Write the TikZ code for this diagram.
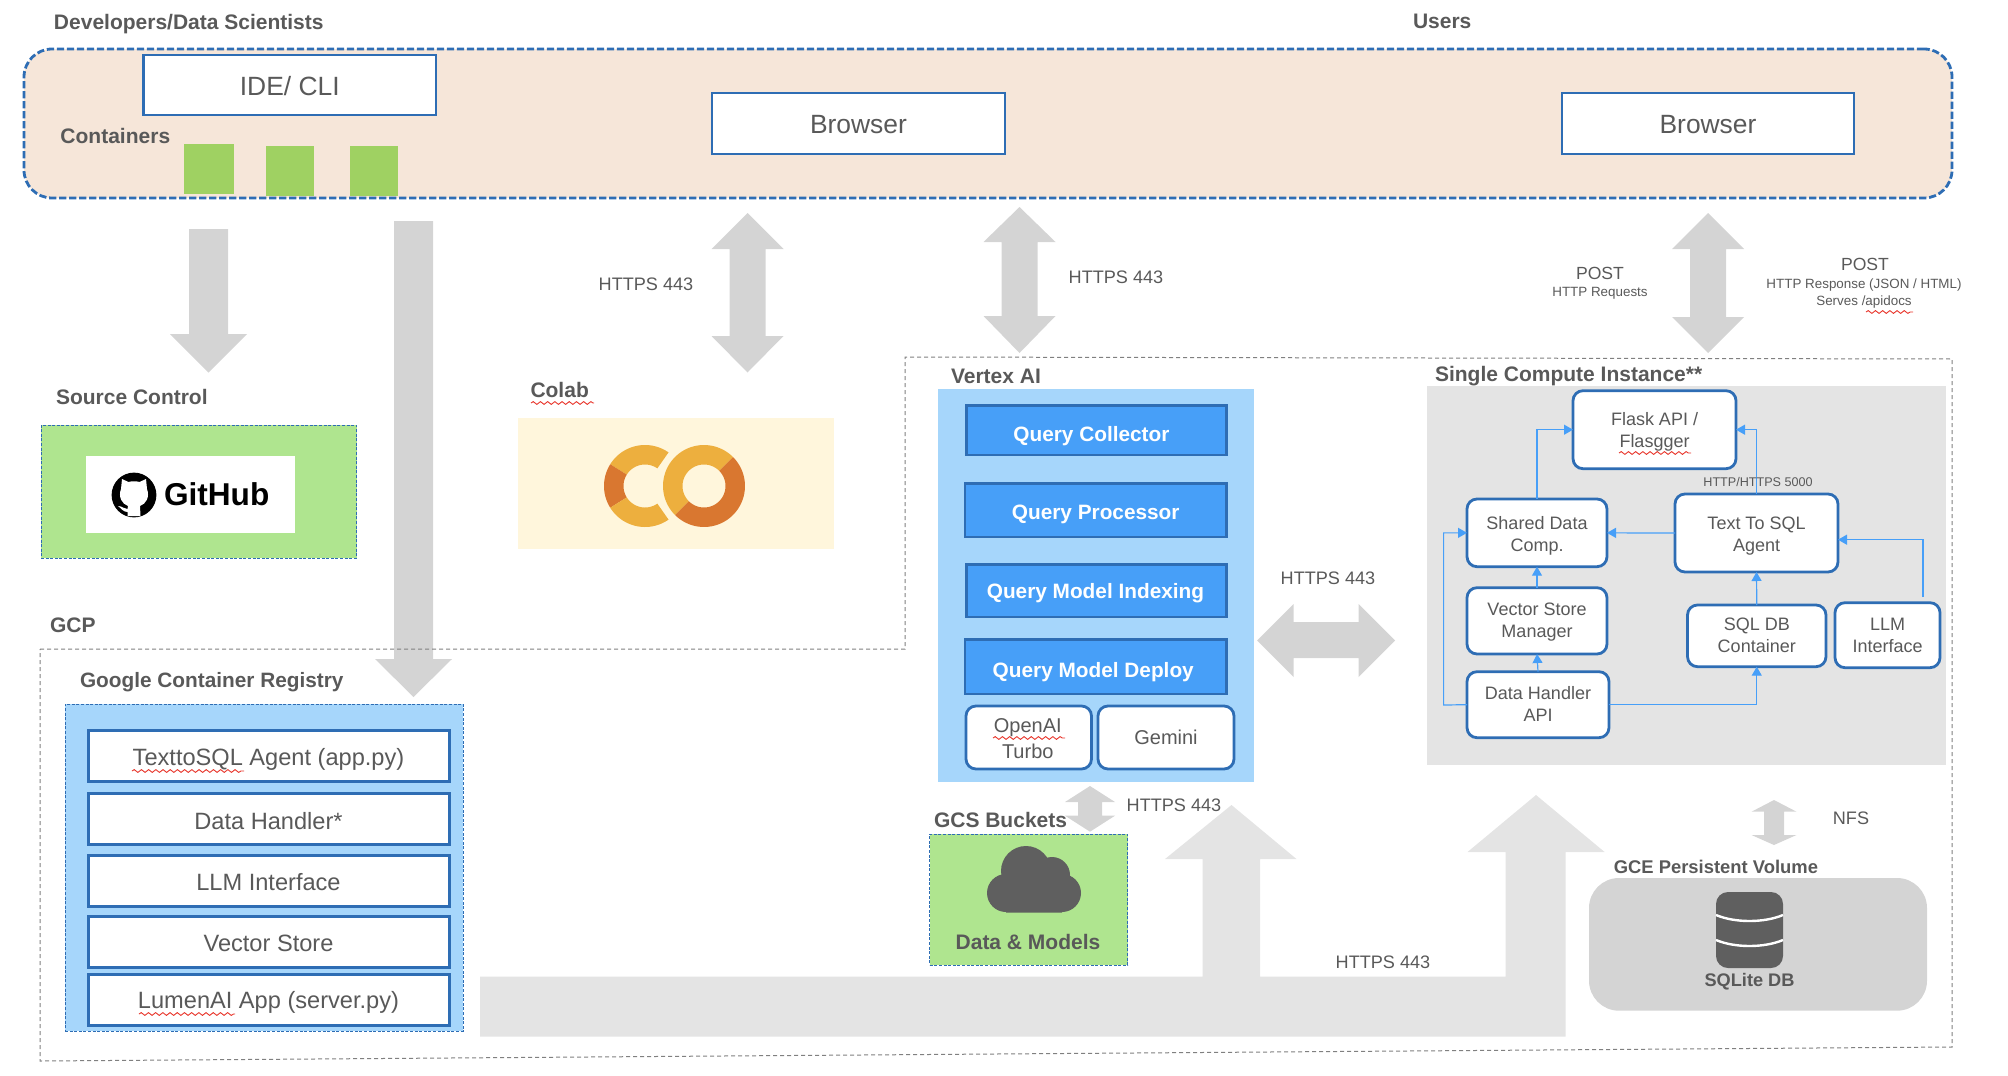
\documentclass[tikz,border=0pt]{standalone}
\usepackage{fontspec}
\setmainfont{Liberation Sans}
\usetikzlibrary{arrows.meta,decorations.pathmorphing}
\definecolor{ink}{HTML}{595959}
\definecolor{linkblue}{HTML}{2E6DB4}
\definecolor{arrowblue}{HTML}{479FF8}
\definecolor{paleblue}{HTML}{A6D6FB}
\definecolor{palegreen}{HTML}{AFE58F}
\definecolor{chipgreen}{HTML}{9FD162}
\definecolor{bandfill}{HTML}{F6E6D9}
\definecolor{creamfill}{HTML}{FFF6DC}
\definecolor{bigarrow}{HTML}{D4D4D4}
\definecolor{softarrow}{HTML}{E4E4E4}
\definecolor{icongrey}{HTML}{5F5F5F}
\definecolor{colablight}{HTML}{EDAF3E}
\definecolor{colabdark}{HTML}{D97730}
\definecolor{squig}{HTML}{E8352B}
\tikzset{
  x=0.5pt,y=-0.5pt,
  base/.style={inner sep=0pt,outer sep=0pt,align=center},
  hdr/.style={base,text=ink,anchor=west,font=\fontsize{10.5}{12}\selectfont\bfseries},
  lbl/.style={base,text=ink,font=\fontsize{9.05}{12}\selectfont},
  band/.style={base,fill=bandfill,draw=linkblue,line width=1.4pt,dash pattern=on 3.6pt off 1.4pt,rounded corners=14pt},
  whitebox/.style={base,fill=white,draw=linkblue,line width=1.4pt,text=ink,font=\fontsize{13.2}{15}\selectfont},
  stackbox/.style={base,fill=white,draw=linkblue,line width=1.5pt,text=ink,font=\fontsize{11.8}{14}\selectfont},
  chip/.style={base,fill=chipgreen},
  dashpanel/.style={base,draw=linkblue,line width=0.5pt,dash pattern=on 1.5pt off 0.8pt},
  querybox/.style={base,fill=arrowblue,draw=linkblue,line width=1.3pt,text=white,font=\fontsize{10.4}{12}\selectfont\bfseries},
  roundbox/.style={base,fill=white,draw=linkblue,line width=1.4pt,rounded corners=5pt,text=ink,font=\fontsize{9}{11}\selectfont},
  conn/.style={draw=arrowblue,line width=0.6pt,-{Triangle[length=4.5pt,width=5pt]}},
  groupline/.style={draw=gray,line width=0.5pt,dash pattern=on 2pt off 1.5pt},
  wavy/.style={draw=squig,line width=0.45pt,decorate,decoration={snake,amplitude=0.7pt,segment length=3.6pt}},
}
\newcommand{\bx}[7]{\node[#6,minimum width={(#4-#2)*0.5pt},minimum height={(#5-#3)*0.5pt}] (#1) at ({(#2+#4)/2},{(#3+#5)/2}) {#7};}
\newcommand{\nudge}[3]{\raisebox{#2}[\height][\depth]{\kern#1\relax #3}}
\newcommand{\twol}[2]{\begin{tabular}{@{}c@{}}#1\\#2\end{tabular}}
% vertical double arrow: colour, cx, half shaft, half head, tip top, base top, base bottom, tip bottom
\newcommand{\vdbl}[8]{\fill[#1] (#2,#5) -- ({#2+#4},#6) -- ({#2+#3},#6) -- ({#2+#3},#7) -- ({#2+#4},#7) -- (#2,#8) -- ({#2-#4},#7) -- ({#2-#3},#7) -- ({#2-#3},#6) -- ({#2-#4},#6) -- cycle;}
\newcommand{\ringsec}[7]{\fill[#7] plot[domain=#5:#6,samples=40] ({#1+#3*cos(\x)},{#2-#3*sin(\x)}) -- plot[domain=#6:#5,samples=40] ({#1+#4*cos(\x)},{#2-#4*sin(\x)}) -- cycle;}
\begin{document}
\begin{tikzpicture}
\useasboundingbox (0,0) rectangle (2008,1076);
% thick arrows that sit beneath the group outlines
\fill[softarrow] (480,976.5) -- (1202.5,976.5) -- (1202.5,859) -- (1165,859) -- (1231.5,805) -- (1296.5,859) -- (1260,859) -- (1260,976.5) -- (1505.6,976.5) -- (1505.6,852) -- (1467.5,852) -- (1536,795) -- (1604.6,852) -- (1565.7,852) -- (1565.7,1036.7) -- (480,1036.7) -- cycle;
\fill[bigarrow] (189,229) -- (228,229) -- (228,334) -- (247,334) -- (208.5,372.5) -- (170,334) -- (189,334) -- cycle;
\fill[bigarrow] (394,221) -- (433,221) -- (433,659) -- (452,659) -- (413.5,697) -- (375,659) -- (394,659) -- cycle;
\vdbl{bigarrow}{747.5}{18}{36}{213}{249}{336}{372.5}
\vdbl{bigarrow}{1019.5}{18}{36}{207}{242}{316}{353}
\vdbl{bigarrow}{1708}{18}{36}{213}{249}{317}{353}
\vdbl{bigarrow}{1090}{12}{25}{786}{802}{815.7}{831.7}
\vdbl{bigarrow}{1774}{10}{22.5}{800}{811.7}{835}{845}
\fill[bigarrow] (1257,640.5) -- (1293.6,604) -- (1293.6,622) -- (1358.6,622) -- (1358.6,604) -- (1395,640.5) -- (1358.6,677) -- (1358.6,658) -- (1293.6,658) -- (1293.6,677) -- cycle;
% group outline
\draw[groupline] (40,649) -- (905,649) -- (905,357) -- (1952,359) -- (1952,1047) -- (40,1061) -- cycle;
% top band
\bx{topband}{24}{49}{1952}{198}{band}{}
\bx{ide}{143.5}{55}{436}{115}{whitebox}{\nudge{0pt}{-0.6pt}{IDE/ CLI}}
\bx{browserA}{712}{93}{1005}{154}{whitebox}{\nudge{0pt}{-0.6pt}{Browser}}
\bx{browserB}{1562}{93}{1854}{154}{whitebox}{\nudge{0pt}{-0.6pt}{Browser}}
\bx{chipA}{184}{144}{234}{194}{chip}{}
\bx{chipB}{266}{146}{314}{196}{chip}{}
\bx{chipC}{350}{146}{398}{196}{chip}{}
\node[hdr] (devs) at (54,24) {Developers/Data Scientists};
\node[hdr] (users) at (1413,21) {Users};
\node[hdr] (containers) at (60.5,136) {Containers};
% source control
\node[hdr] (srcctl) at (56,397) {Source Control};
\bx{ghpanel}{41}{425}{356.5}{558}{dashpanel,fill=palegreen}{}
\bx{ghcard}{86}{456}{295}{532.5}{base,fill=white}{}
\fill[black] (134,495) circle[radius=11.2pt];
\fill[white] (121,489) -- (122,479) -- (128.5,482) .. controls (132,481) and (136,481) .. (139.5,482) -- (146,479) -- (147,489) .. controls (150,497) and (146,504) .. (140,506) -- (140.5,516) -- (127.5,516) -- (127.5,512) .. controls (123,512) and (121,508) .. (118,506) .. controls (122,506) and (124,509) .. (127.5,509) -- (128,506) .. controls (122,504) and (118,497) .. (121,489) -- cycle;
\node[base,text=black,anchor=west,font=\fontsize{15.8}{18}\selectfont\bfseries] (ghtext) at (164,494) {GitHub};
% colab
\node[hdr] (colab) at (530.5,390) {Colab};
\draw[wavy] (531,403) -- (594,403);
\bx{colabpanel}{518}{418}{834}{549}{base,fill=creamfill}{}
\ringsec{645}{486}{41}{21.5}{55}{148}{colablight}
\ringsec{645}{486}{41}{21.5}{148}{212}{colabdark}
\ringsec{645}{486}{41}{21.5}{212}{305}{colablight}
\fill[creamfill] (704,486) circle[radius=21.8pt];
\ringsec{704}{486}{41}{21.5}{45}{225}{colablight}
\ringsec{704}{486}{41}{21.5}{225}{405}{colabdark}
% labels on arrows
\node[lbl] (httpsA) at (646,284) {HTTPS 443};
\node[lbl] (httpsB) at (1116,277) {HTTPS 443};
\node[lbl] (httpsC) at (1328,578) {HTTPS 443};
\node[lbl] (httpsD) at (1174,805) {HTTPS 443};
\node[lbl] (httpsE) at (1383,962) {HTTPS 443};
\node[lbl] (nfs) at (1851,818) {NFS};
\node[lbl,font=\fontsize{8.8}{10}\selectfont] (postL) at (1600,273) {POST};
\node[lbl,font=\fontsize{6.7}{8}\selectfont] (postLb) at (1600,293) {HTTP Requests};
\node[lbl,font=\fontsize{8.8}{10}\selectfont] (postR) at (1865,264) {POST};
\node[lbl,font=\fontsize{6.7}{8}\selectfont] (postRb) at (1864,285) {HTTP Response (JSON / HTML)};
\node[lbl,font=\fontsize{6.7}{8}\selectfont] (postRc) at (1864,302) {Serves /apidocs};
\draw[wavy] (1866,312) -- (1913,312);
% GCP
\node[hdr] (gcp) at (50,625) {GCP};
\node[hdr,font=\fontsize{10.4}{12}\selectfont\bfseries] (gcr) at (80,682) {Google Container Registry};
\bx{gcrpanel}{65}{704}{463}{1031}{dashpanel,fill=paleblue}{}
\bx{stackA}{88}{730.7}{449}{781.7}{stackbox}{\nudge{0pt}{-1.8pt}{TexttoSQL Agent (app.py)}}
\bx{stackB}{88}{793}{449}{844}{stackbox}{\nudge{0pt}{-1.1pt}{Data Handler*}}
\bx{stackC}{88}{855.7}{449}{906.7}{stackbox}{\nudge{0pt}{-0.6pt}{LLM Interface}}
\bx{stackD}{88}{916.7}{449}{967.7}{stackbox}{\nudge{0pt}{-0.6pt}{Vector Store}}
\bx{stackE}{88}{974.7}{449}{1025.7}{stackbox}{\nudge{0pt}{-1.3pt}{LumenAI App (server.py)}}
\draw[wavy] (132,771) -- (244,771);
\draw[wavy] (139,1014) -- (235,1014);
% Vertex AI
\node[hdr] (vertex) at (951,376) {Vertex AI};
\bx{vertexpanel}{938}{389}{1254}{782}{base,fill=paleblue}{}
\bx{qc}{966.4}{405.7}{1226.5}{455}{querybox}{\nudge{-5pt}{-2.8pt}{Query Collector}}
\bx{qp}{965}{483.7}{1226.5}{537}{querybox}{\nudge{0pt}{-2pt}{Query Processor}}
\bx{qmi}{966.4}{564.7}{1226.5}{617}{querybox}{\nudge{-1pt}{-1pt}{Query Model Indexing}}
\bx{qmd}{965}{639.7}{1226.5}{694}{querybox}{\nudge{-2.5pt}{-2.5pt}{Query Model Deploy}}
\bx{openai}{966}{706}{1091.5}{769}{roundbox,font=\fontsize{10}{13}\selectfont}{\nudge{-1pt}{-1.6pt}{\twol{OpenAI}{Turbo}}}
\bx{gemini}{1098}{706}{1234}{769}{roundbox,font=\fontsize{10}{13}\selectfont}{Gemini}
\draw[wavy] (993,738) -- (1065,738);
% GCS
\node[hdr] (gcs) at (934,820) {GCS Buckets};
\bx{gcspanel}{929.7}{834}{1127.6}{965}{dashpanel,fill=palegreen}{}
\fill[icongrey] (1026,871) circle[radius=12.5pt] (1052,875) circle[radius=9pt] (1062,893) circle[radius=9.5pt] (1006,893) circle[radius=9.5pt] (1006,880) rectangle (1062,912.5);
\node[hdr,anchor=center] (gcsdata) at (1028,942) {Data \& Models};
% compute instance
\node[hdr] (compute) at (1435,376) {Single Compute Instance**};
\bx{computepanel}{1427}{386}{1946}{765}{base,fill=softarrow}{}
\bx{flask}{1573}{390.7}{1736}{468.7}{roundbox}{\nudge{0pt}{-1pt}{\twol{Flask API /}{Flasgger}}}
\bx{shared}{1467}{499}{1607}{566.7}{roundbox}{\nudge{0pt}{-1.5pt}{\twol{Shared Data}{Comp.}}}
\bx{textsql}{1675}{494}{1838}{572}{roundbox}{\nudge{0pt}{-1.3pt}{\twol{Text To SQL}{Agent}}}
\bx{vector}{1467}{587.7}{1607}{654}{roundbox}{\nudge{0pt}{-0.8pt}{\twol{Vector Store}{Manager}}}
\bx{datahandler}{1467}{671.7}{1609}{737.7}{roundbox}{\nudge{0pt}{-0.7pt}{\twol{Data Handler}{API}}}
\bx{sqldb}{1687.5}{605}{1826}{666.7}{roundbox}{\nudge{0pt}{-0.7pt}{\twol{SQL DB}{Container}}}
\bx{llm}{1835}{602.7}{1940}{667.7}{roundbox}{\nudge{0pt}{-1pt}{\twol{LLM}{Interface}}}
\draw[wavy] (1619,453) -- (1691,453);
\coordinate (dhturn) at (1443.6,705);
\coordinate (llmfree) at (1923,597);
\coordinate (textport) at (1838,539.7);
\draw[conn] (shared.north) |- (flask.west);
\draw[conn] (textsql.north) |- (flask.east);
\draw[conn] (textsql.west) -- (shared.east);
\draw[conn] (datahandler.west) -- (dhturn) |- (shared.west);
\draw[conn] (datahandler.east) -| (sqldb.south);
\draw[conn] (sqldb.north) -- (textsql.south);
\draw[conn] (vector.north) -- (shared.south);
\draw[conn] (datahandler.north) -- (vector.south);
\draw[conn] (llmfree) |- (textport);
\node[lbl,font=\fontsize{6.3}{8}\selectfont] (http5000) at (1758,482) {HTTP/HTTPS 5000};
% persistent volume
\node[hdr,font=\fontsize{9.2}{11}\selectfont\bfseries] (gce) at (1613.8,866.5) {GCE Persistent Volume};
\bx{dbpanel}{1589}{878}{1927}{1010.7}{base,fill=bigarrow,rounded corners=15pt}{}
\fill[icongrey,rounded corners=6pt] (1716,892) rectangle (1783,968);
\draw[white,line width=1.2pt] (1716,915) .. controls (1735,923) and (1764,923) .. (1783,915);
\draw[white,line width=1.2pt] (1716,940) .. controls (1735,948) and (1764,948) .. (1783,940);
\node[hdr,anchor=center,font=\fontsize{9.1}{11}\selectfont\bfseries] (sqlite) at (1749.5,981.5) {SQLite DB};
\end{tikzpicture}
\end{document}
